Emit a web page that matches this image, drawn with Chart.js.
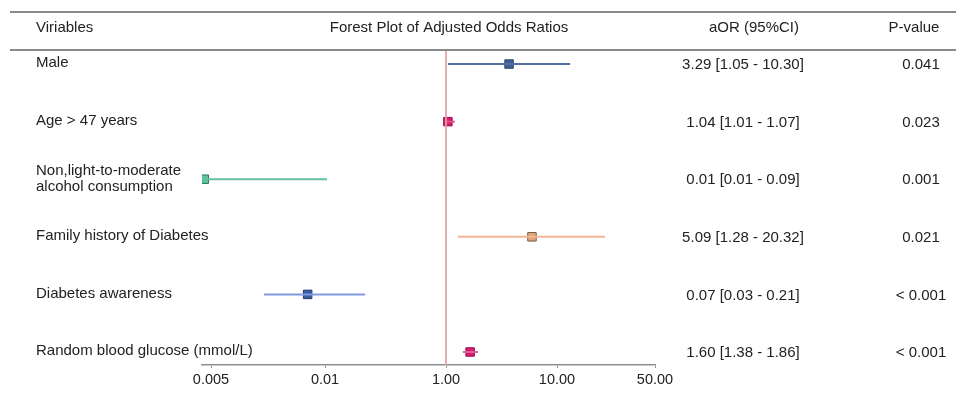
<!DOCTYPE html>
<html>
<head>
<meta charset="utf-8">
<script src="https://cdn.jsdelivr.net/npm/chart.js@4.4.1/dist/chart.umd.min.js"></script>
<style>
  html, body { margin: 0; padding: 0; background: #fff; }
  #wrap { width: 956px; height: 393px; position: relative; }
</style>
</head>
<body>
<div id="wrap"><canvas id="forest"></canvas></div>
<script>
// rows of the forest plot
const variables = [
  'Male',
  'Age > 47 years',
  ['Non,light-to-moderate', 'alcohol consumption'],
  'Family history of Diabetes',
  'Diabetes awareness',
  'Random blood glucose (mmol/L)'
];
const aorText = [
  '3.29 [1.05 - 10.30]',
  '1.04 [1.01 - 1.07]',
  '0.01 [0.01 - 0.09]',
  '5.09 [1.28 - 20.32]',
  '0.07 [0.03 - 0.21]',
  '1.60 [1.38 - 1.86]'
];
const pValues = ['0.041', '0.023', '0.001', '0.021', '< 0.001', '< 0.001'];

// values as plotted
const orPoint = [3.70, 1.04, 0.0048, 5.95, 0.0090, 1.65];
const ciLow   = [1.04, 1.00, 0.0048, 1.28, 0.0069, 1.42];
const ciHigh  = [12.4, 1.20, 0.0108, 22.0, 0.046, 1.94];

// axis ticks
const tickValues = [0.005, 0.01, 1, 10, 50];
const tickLabels = ['0.005', '0.01', '1.00', '10.00', '50.00'];
const tickUnits  = [9, 123, 244, 355, 453]; // the axis is piecewise, not a true log

const markerFill   = ['#3d6196', '#d81b6a', '#5cc39b', '#dfa77f', '#3a5ba2', '#d81b6a'];
const markerBorder = ['#2b456d', '#9c1050', '#2f7a5d', '#7a5a40', '#25396c', '#9c1050'];
const lineColors   = ['#4f70a0', '#e0508f', '#63c0a0', '#f5b594', '#8099df', '#e0609a'];

// OR -> axis unit (log interpolation between the tick anchors)
function toAxis(v) {
  let i = 0;
  if (v > tickValues[1]) i = 1;
  if (v > tickValues[2]) i = 2;
  if (v > tickValues[3]) i = 3;
  const a = tickValues[i], b = tickValues[i + 1];
  const f = Math.log(v / a) / Math.log(b / a);
  return tickUnits[i] + f * (tickUnits[i + 1] - tickUnits[i]);
}

const FONT = '"Liberation Sans", Arial, sans-serif';

const datasets = [];
// reference line at OR = 1
datasets.push({
  type: 'line',
  data: [{ x: toAxis(1), y: -0.3 }, { x: toAxis(1), y: 5.3 }],
  borderColor: '#e3a2a2',
  borderWidth: 1,
  pointRadius: 0
});
// confidence intervals
for (let i = 0; i < variables.length; i++) {
  datasets.push({
    type: 'line',
    data: [{ x: toAxis(ciLow[i]), y: i }, { x: toAxis(ciHigh[i]), y: i }],
    borderColor: lineColors[i],
    borderWidth: 2,
    pointRadius: 0
  });
}
// point estimates
datasets.push({
  type: 'scatter',
  data: orPoint.map((v, i) => ({ x: toAxis(v), y: i })),
  pointStyle: 'rect',
  pointRadius: 6,
  backgroundColor: markerFill,
  borderColor: markerBorder,
  borderWidth: 1
});

const tablePlugin = {
  id: 'table',
  afterDraw(chart) {
    const ctx = chart.ctx;
    const ys = chart.scales.y;
    ctx.save();
    // header rules
    ctx.strokeStyle = '#8a8a8a';
    ctx.lineWidth = 2;
    ctx.beginPath();
    ctx.moveTo(10, 12); ctx.lineTo(956, 12);
    ctx.moveTo(10, 50); ctx.lineTo(956, 50);
    ctx.stroke();

    ctx.fillStyle = '#222';
    ctx.textBaseline = 'middle';
    ctx.font = '15px ' + FONT;
    ctx.textAlign = 'left';
    ctx.fillText('Viriables', 36, 28);
    ctx.textAlign = 'center';
    ctx.fillText('Forest Plot of Adjusted Odds Ratios', 449, 28);
    ctx.fillText('aOR (95%CI)', 754, 28);
    ctx.fillText('P-value', 914, 28);

    for (let i = 0; i < variables.length; i++) {
      const y = ys.getPixelForValue(i);
      ctx.textAlign = 'left';
      const lab = variables[i];
      if (Array.isArray(lab)) {
        ctx.fillText(lab[0], 36, y - 8);
        ctx.fillText(lab[1], 36, y + 8);
      } else {
        ctx.fillText(lab, 36, y - 1);
      }
      ctx.textAlign = 'center';
      ctx.fillText(aorText[i], 743, y + 1);
      ctx.fillText(pValues[i], 921, y + 1);
    }
    ctx.restore();
  }
};

new Chart(document.getElementById('forest'), {
  type: 'scatter',
  data: { datasets: datasets },
  options: {
    responsive: true,
    maintainAspectRatio: false,
    animation: false,
    layout: { padding: { left: 202, right: 301, top: 50, bottom: 0 } },
    plugins: { legend: { display: false }, tooltip: { enabled: false } },
    scales: {
      x: {
        type: 'linear',
        min: 0,
        max: 453,
        afterBuildTicks: (scale) => {
          scale.ticks = tickUnits.map(u => ({ value: u }));
        },
        afterFit: (scale) => { scale.height = 28; },
        ticks: {
          autoSkip: false,
          maxRotation: 0,
          padding: 3,
          color: '#222',
          font: { family: FONT, size: 14.5 },
          callback: (val, idx) => tickLabels[idx]
        },
        grid: { drawOnChartArea: false, drawTicks: true, tickLength: 3, color: '#999' },
        border: { color: '#8f8f8f', width: 1.5 }
      },
      y: {
        type: 'linear',
        display: false,
        reverse: true,
        min: -0.244,
        max: 5.226
      }
    }
  },
  plugins: [tablePlugin]
});
</script>
</body>
</html>
